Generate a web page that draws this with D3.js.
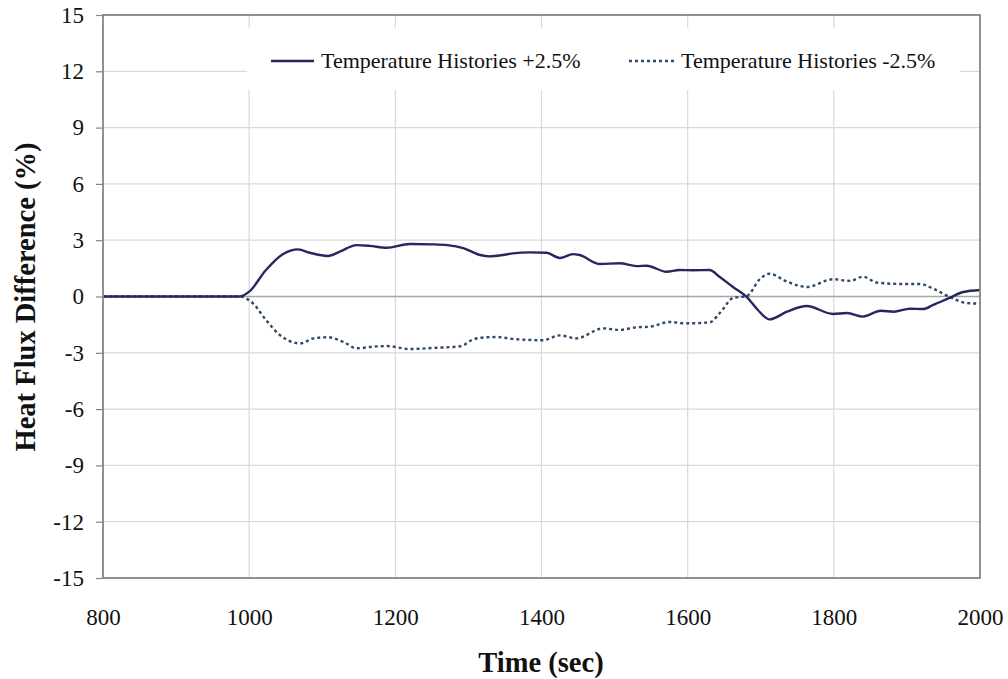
<!DOCTYPE html>
<html>
<head>
<meta charset="utf-8">
<script src="https://cdn.jsdelivr.net/npm/d3@7"></script>
<style>
  html, body { margin: 0; padding: 0; background: #fff; }
  svg { display: block; font-family: "Liberation Serif", "Times New Roman", serif; }
</style>
</head>
<body>
<svg id="chart" width="1008" height="679"></svg>
<script>
// Time samples (sec) and heat flux differences (%) for each perturbation case
const timePlus  = [800, 900, 980, 987, 1000, 1023, 1046, 1067, 1083, 1108, 1124, 1147, 1165, 1188, 1220, 1252, 1271, 1293, 1316, 1329, 1347, 1361, 1384, 1407, 1425, 1443, 1452, 1480, 1507, 1530, 1544, 1571, 1589, 1607, 1630, 1644, 1662, 1681, 1696, 1712, 1736, 1763, 1799, 1818, 1840, 1864, 1882, 1904, 1922, 1936, 1959, 1977, 2000];
const fluxPlus  = [0, 0, 0, 0, 0.26, 1.41, 2.25, 2.51, 2.33, 2.16, 2.39, 2.74, 2.70, 2.60, 2.80, 2.78, 2.74, 2.58, 2.21, 2.14, 2.21, 2.30, 2.35, 2.33, 2.05, 2.26, 2.21, 1.73, 1.77, 1.62, 1.64, 1.32, 1.41, 1.40, 1.41, 1.04, 0.51, -0.03, -0.72, -1.22, -0.81, -0.51, -0.93, -0.88, -1.07, -0.76, -0.81, -0.65, -0.67, -0.45, -0.06, 0.24, 0.35];

const timeMinus = [800, 900, 980, 987, 1005, 1023, 1042, 1070, 1088, 1108, 1129, 1147, 1170, 1188, 1220, 1252, 1289, 1307, 1326, 1339, 1361, 1402, 1425, 1448, 1484, 1507, 1530, 1548, 1575, 1598, 1630, 1644, 1662, 1681, 1699, 1712, 1736, 1763, 1799, 1822, 1840, 1859, 1891, 1918, 1936, 1959, 1982, 2000];
const fluxMinus = [0, 0, 0, 0, -0.36, -1.25, -2.05, -2.50, -2.23, -2.17, -2.42, -2.76, -2.67, -2.64, -2.80, -2.74, -2.65, -2.28, -2.17, -2.16, -2.26, -2.33, -2.07, -2.23, -1.70, -1.78, -1.64, -1.61, -1.36, -1.43, -1.38, -0.88, -0.08, 0.03, 0.93, 1.21, 0.79, 0.51, 0.92, 0.83, 1.05, 0.74, 0.67, 0.67, 0.42, -0.03, -0.35, -0.38];

const xTicks = [800, 1000, 1200, 1400, 1600, 1800, 2000];
const yTicks = [-15, -12, -9, -6, -3, 0, 3, 6, 9, 12, 15];
const seriesNames = ["Temperature Histories +2.5%", "Temperature Histories -2.5%"];

const svg = d3.select("#chart");
const m = { left: 103, top: 15, right: 980, bottom: 578 };
const serif = "Liberation Serif, Times New Roman, serif";
const plain = d => String(d);

const x = d3.scaleLinear().domain([800, 2000]).range([m.left, m.right]);
const y = d3.scaleLinear().domain([-15, 15]).range([m.bottom, m.top]);

// Grid
const grid = svg.append("g");
grid.selectAll("line.gx").data(xTicks.slice(1, -1)).join("line")
  .attr("x1", d => x(d)).attr("x2", d => x(d))
  .attr("y1", m.top).attr("y2", m.bottom)
  .attr("stroke", "#d9d9d9").attr("stroke-width", 1.2);
grid.selectAll("line.gy").data(yTicks.filter(d => d !== 15 && d !== -15)).join("line")
  .attr("x1", m.left).attr("x2", m.right)
  .attr("y1", d => y(d)).attr("y2", d => y(d))
  .attr("stroke", d => d === 0 ? "#a6a6a6" : "#d9d9d9")
  .attr("stroke-width", d => d === 0 ? 1.6 : 1.2);

// Legend background sits over the grid
svg.append("rect")
  .attr("x", 247).attr("y", 28).attr("width", 713).attr("height", 62)
  .attr("fill", "#fff");

// Series
const linePlus = d3.line().curve(d3.curveMonotoneX)
  .x((d, i) => x(timePlus[i])).y(d => y(d));
const lineMinus = d3.line().curve(d3.curveMonotoneX)
  .x((d, i) => x(timeMinus[i])).y(d => y(d));

svg.append("path").datum(fluxMinus)
  .attr("d", lineMinus)
  .attr("fill", "none").attr("stroke", "#2f4a66")
  .attr("stroke-width", 2.4).attr("stroke-dasharray", "3,3");
svg.append("path").datum(fluxPlus)
  .attr("d", linePlus)
  .attr("fill", "none").attr("stroke", "#27275f")
  .attr("stroke-width", 2.4);

// Frame
svg.append("rect")
  .attr("x", m.left).attr("y", m.top)
  .attr("width", m.right - m.left).attr("height", m.bottom - m.top)
  .attr("fill", "none").attr("stroke", "#858585").attr("stroke-width", 1.8);

// Axes
const yAxis = d3.axisLeft(y).tickValues(yTicks).tickFormat(plain).tickSize(7).tickPadding(12);
const gy = svg.append("g").attr("transform", `translate(${m.left},0)`).call(yAxis);
gy.select(".domain").remove();
gy.selectAll(".tick line").attr("stroke", "#858585").attr("stroke-width", 1.2);
gy.selectAll(".tick text").attr("font-size", 23).attr("fill", "#111")
  .attr("font-family", serif);

const xAxis = d3.axisBottom(x).tickValues(xTicks).tickFormat(plain).tickSize(0).tickPadding(31);
const gx = svg.append("g").attr("transform", `translate(0,${m.bottom})`).call(xAxis);
gx.select(".domain").remove();
gx.selectAll(".tick text").attr("font-size", 23).attr("fill", "#111")
  .attr("font-family", serif);

// Axis titles
svg.append("text")
  .attr("x", 541).attr("y", 672)
  .attr("text-anchor", "middle").attr("font-size", 28.5).attr("font-weight", "bold")
  .attr("fill", "#111").text("Time (sec)");
svg.append("text")
  .attr("transform", `translate(35,297) rotate(-90)`)
  .attr("text-anchor", "middle").attr("font-size", 28.5).attr("font-weight", "bold")
  .attr("fill", "#111").text("Heat Flux Difference (%)");

// Legend
const legend = svg.append("g");
legend.append("line").attr("x1", 271).attr("x2", 314).attr("y1", 61).attr("y2", 61)
  .attr("stroke", "#27275f").attr("stroke-width", 2.4);
legend.append("text").attr("x", 321).attr("y", 68).attr("font-size", 22)
  .attr("fill", "#111").text(seriesNames[0]);
legend.append("line").attr("x1", 629).attr("x2", 675).attr("y1", 61).attr("y2", 61)
  .attr("stroke", "#2f4a66").attr("stroke-width", 2.4).attr("stroke-dasharray", "3,3");
legend.append("text").attr("x", 681).attr("y", 68).attr("font-size", 22)
  .attr("fill", "#111").text(seriesNames[1]);
</script>
</body>
</html>
